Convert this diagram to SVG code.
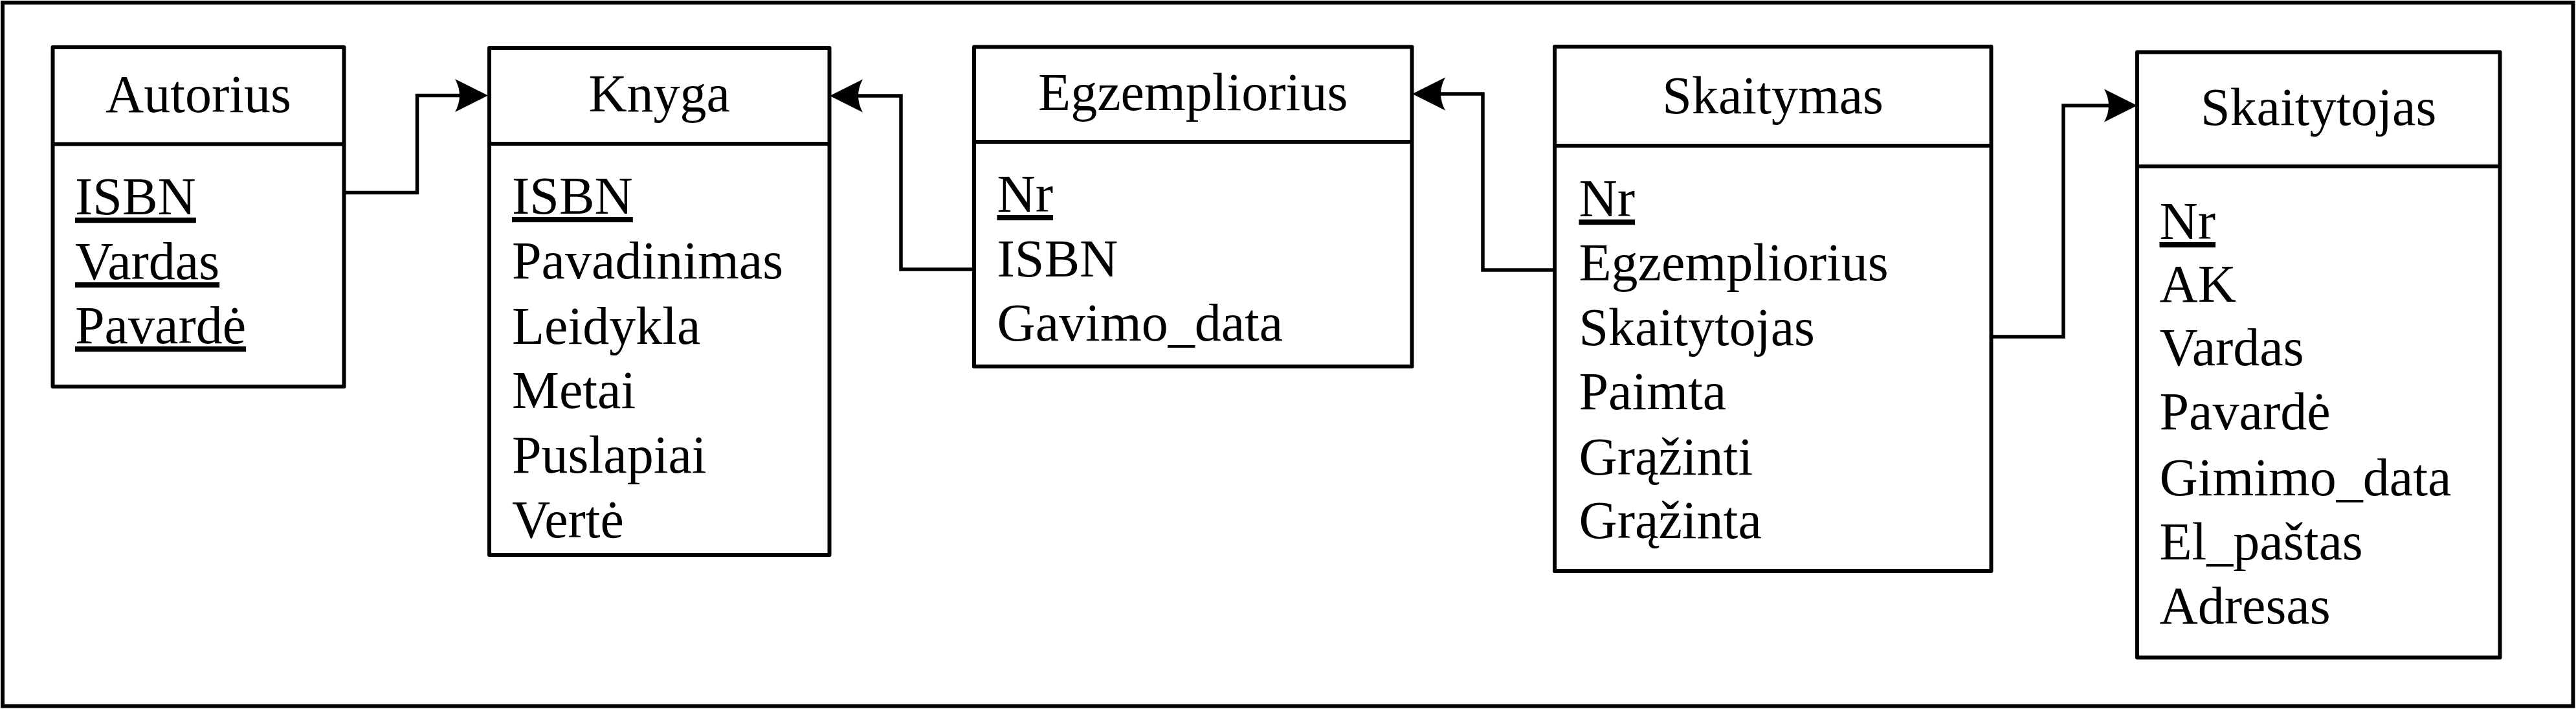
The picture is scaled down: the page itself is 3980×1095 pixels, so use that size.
<svg xmlns="http://www.w3.org/2000/svg" width="3980" height="1095" viewBox="0 0 3980 1095">
<style>
.box{fill:#fff;stroke:#000;stroke-width:6;stroke-linejoin:round}
.sep{stroke:#000;stroke-width:6}
.t{font-family:"Liberation Serif","Times New Roman",serif;font-size:82px;fill:#000}
.c{text-anchor:middle}
.u{text-decoration:underline}
.conn{fill:none;stroke:#000;stroke-width:5.5;stroke-linejoin:miter}
</style>
<defs>
<marker id="arr" viewBox="-53 -28 56 56" markerWidth="56" markerHeight="56" refX="-44" refY="0" markerUnits="userSpaceOnUse" orient="auto">
<path d="M0,0 L-51,-25.5 Q-37,0 -51,25.5 Z" fill="#000"/>
</marker>
</defs>
<rect x="4" y="4" width="3971.5" height="1086.5" fill="#fff" stroke="#000" stroke-width="6"/>
<g id="connectors">
<path class="conn" d="M531.5,297.5 H644.5 V147.5 H710" marker-end="url(#arr)"/>
<path class="conn" d="M1505,416 H1392 V148 H1326" marker-end="url(#arr)"/>
<path class="conn" d="M2402,417 H2291 V145 H2226" marker-end="url(#arr)"/>
<path class="conn" d="M3076.5,520 H3188 V163 H3258" marker-end="url(#arr)"/>
</g>
<g id="autorius">
<rect class="box" x="81.5" y="73" width="450" height="524"/>
<line class="sep" x1="81.5" y1="222.5" x2="531.5" y2="222.5"/>
<text class="t c" x="306.5" y="172.5">Autorius</text>
<text class="t u" x="116" y="331">ISBN</text>
<text class="t u" x="116" y="431">Vardas</text>
<text class="t u" x="116" y="530">Pavardė</text>
</g>
<g id="knyga">
<rect class="box" x="756" y="74" width="525.5" height="783"/>
<line class="sep" x1="756" y1="222" x2="1281.5" y2="222"/>
<text class="t c" x="1018.7" y="172">Knyga</text>
<text class="t u" x="791" y="330">ISBN</text>
<text class="t" x="791" y="430">Pavadinimas</text>
<text class="t" x="791" y="531">Leidykla</text>
<text class="t" x="791" y="630">Metai</text>
<text class="t" x="791" y="730">Puslapiai</text>
<text class="t" x="791" y="830">Vertė</text>
</g>
<g id="egzempliorius">
<rect class="box" x="1505" y="72.5" width="676.5" height="493.5"/>
<line class="sep" x1="1505" y1="219" x2="2181.5" y2="219"/>
<text class="t c" x="1843.2" y="170">Egzempliorius</text>
<text class="t u" x="1540.5" y="327">Nr</text>
<text class="t" x="1540.5" y="426.5">ISBN</text>
<text class="t" x="1540.5" y="526">Gavimo_data</text>
</g>
<g id="skaitymas">
<rect class="box" x="2402" y="72" width="674.5" height="810"/>
<line class="sep" x1="2402" y1="225" x2="3076.5" y2="225"/>
<text class="t c" x="2739.2" y="174.5">Skaitymas</text>
<text class="t u" x="2439.5" y="334">Nr</text>
<text class="t" x="2439.5" y="433">Egzempliorius</text>
<text class="t" x="2439.5" y="532.5">Skaitytojas</text>
<text class="t" x="2439.5" y="632">Paimta</text>
<text class="t" x="2439.5" y="732.5">Grąžinti</text>
<text class="t" x="2439.5" y="831">Grąžinta</text>
</g>
<g id="skaitytojas">
<rect class="box" x="3302" y="80.5" width="560.5" height="935"/>
<line class="sep" x1="3302" y1="257" x2="3862.5" y2="257"/>
<text class="t c" x="3582.2" y="192.5">Skaitytojas</text>
<text class="t u" x="3336.5" y="369">Nr</text>
<text class="t" x="3336.5" y="465.5">AK</text>
<text class="t" x="3336.5" y="564">Vardas</text>
<text class="t" x="3336.5" y="663">Pavardė</text>
<text class="t" x="3336.5" y="765">Gimimo_data</text>
<text class="t" x="3336.5" y="864">El_paštas</text>
<text class="t" x="3336.5" y="963">Adresas</text>
</g>
</svg>
